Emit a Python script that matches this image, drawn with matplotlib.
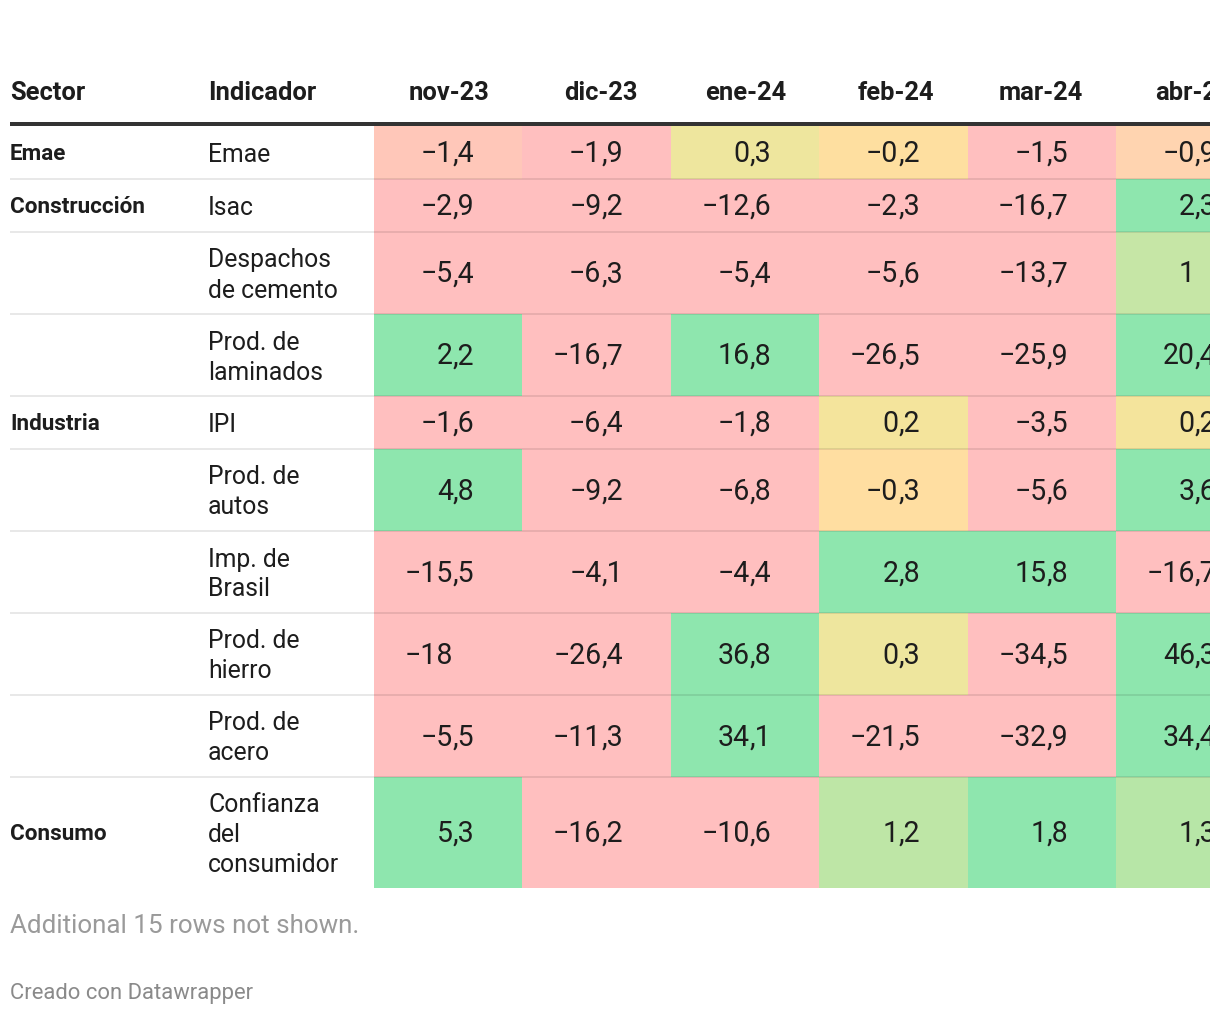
import matplotlib
matplotlib.use("Agg")
import matplotlib.pyplot as plt
import numpy as np
from matplotlib.colors import LinearSegmentedColormap, Normalize

plt.rcParams['font.family'] = ['Roboto', 'DejaVu Sans']

# ---------------- data ----------------
sectors = ["Emae", "Construcción", "", "", "Industria", "", "", "", "", "Consumo"]
indicators = ["Emae", "Isac", "Despachos\nde cemento", "Prod. de\nlaminados", "IPI",
              "Prod. de\nautos", "Imp. de\nBrasil", "Prod. de\nhierro", "Prod. de\nacero",
              "Confianza\ndel\nconsumidor"]
months = ["nov-23", "dic-23", "ene-24", "feb-24", "mar-24", "abr-24"]
nov_23 = [-1.4, -2.9, -5.4, 2.2, -1.6, 4.8, -15.5, -18, -5.5, 5.3]
dic_23 = [-1.9, -9.2, -6.3, -16.7, -6.4, -9.2, -4.1, -26.4, -11.3, -16.2]
ene_24 = [0.3, -12.6, -5.4, 16.8, -1.8, -6.8, -4.4, 36.8, 34.1, -10.6]
feb_24 = [-0.2, -2.3, -5.6, -26.5, 0.2, -0.3, 2.8, 0.3, -21.5, 1.2]
mar_24 = [-1.5, -16.7, -13.7, -25.9, -3.5, -5.6, 15.8, -34.5, -32.9, 1.8]
abr_24 = [-0.9, 2.3, 1, 20.4, 0.2, 3.6, -16.7, 46.3, 34.4, 1.3]
footnote = "Additional 15 rows not shown."
credit = "Creado con Datawrapper"

values = np.array([nov_23, dic_23, ene_24, feb_24, mar_24, abr_24]).T

# ---------------- color scale ----------------
vmin, vmax = -1.5, 1.8
stops = [(-1.5, "#ffbfbf"), (-1.4, "#ffc8b8"), (-0.9, "#ffd4b0"), (-0.25, "#ffdfa0"),
         (0.2, "#f4e49c"), (0.3, "#eee69e"), (1.0, "#c6e6a6"), (1.25, "#bce6a6"),
         (1.8, "#8ee6ae")]
cmap = LinearSegmentedColormap.from_list(
    "dw", [((v - vmin) / (vmax - vmin), c) for v, c in stops])
norm = Normalize(vmin=vmin, vmax=vmax, clip=True)

# ---------------- layout (pixels) ----------------
W, H = 1220, 1016
CLIP = 1210  # visible table width (table is cut off at the right)
fig = plt.figure(figsize=(W / 100, H / 100), dpi=100)
ax = fig.add_axes([0, 0, CLIP / W, 1])
ax.set_xlim(0, CLIP)
ax.set_ylim(H, 0)
ax.axis("off")

def px(p):  # pixels -> points
    return p * 72 / 100

x0_cells = 374
col_w = 148.4
xedges = x0_cells + col_w * np.arange(len(months) + 1)
nlines = [s.count("\n") + 1 for s in indicators]
row_h = [53 + 29 * (n - 1) for n in nlines]
yedges = 126 + np.concatenate([[0], np.cumsum(row_h)])

ax.pcolormesh(xedges, yedges, values, cmap=cmap, norm=norm, zorder=1)

# separators
for y in yedges[1:-1]:
    ax.plot([10, CLIP], [y, y], color=(0, 0, 0, 0.09), lw=px(2), zorder=2,
            solid_capstyle="butt")
# header rule
ax.plot([10, CLIP], [124, 124], color="#333333", lw=px(4), zorder=3, solid_capstyle="butt")

txt = "#1d1d1d"
# headers
hy = 93
ax.text(10, hy, "Sector", fontsize=px(25.5), fontweight="bold", color=txt, va="center", ha="left")
ax.text(208, hy, "Indicador", fontsize=px(25.5), fontweight="bold", color=txt, va="center", ha="left")
for j, m in enumerate(months):
    ax.text(xedges[j + 1] - 33, hy, m, fontsize=px(25.5), fontweight="bold", color=txt,
            va="center", ha="right", clip_on=True)

# rows
for i in range(len(indicators)):
    yc = (yedges[i] + yedges[i + 1]) / 2 + 1.5
    if sectors[i]:
        ax.text(10, yc, sectors[i], fontsize=px(22.5), fontweight="bold", color=txt,
                va="center", ha="left")
    lines = indicators[i].split("\n")
    n = len(lines)
    for k, ln in enumerate(lines):
        ax.text(208, yc + 1 + (k - (n - 1) / 2) * 30, ln, fontsize=px(24.8), color=txt,
                va="center", ha="left")
    for j in range(len(months)):
        v = values[i, j]
        s = f"{v:g}".replace("-", "\u2212")
        if "." in s:
            ip, dp = s.split(".")
            dp = "," + dp
        else:
            ip, dp = s, ""
        xa = xedges[j] + 79
        ax.text(xa, yc, ip, fontsize=px(28.5), color=txt, va="center", ha="right",
                zorder=4, clip_on=True)
        if dp:
            ax.text(xa, yc, dp, fontsize=px(28.5), color=txt, va="center", ha="left",
                    zorder=4, clip_on=True)

ax.text(10, 926, footnote, fontsize=px(26), color="#9a9a9a", va="center", ha="left")
ax.text(10, 993, credit, fontsize=px(22), color="#8a8a8a", va="center", ha="left")

fig.savefig("out.png", dpi=100)
